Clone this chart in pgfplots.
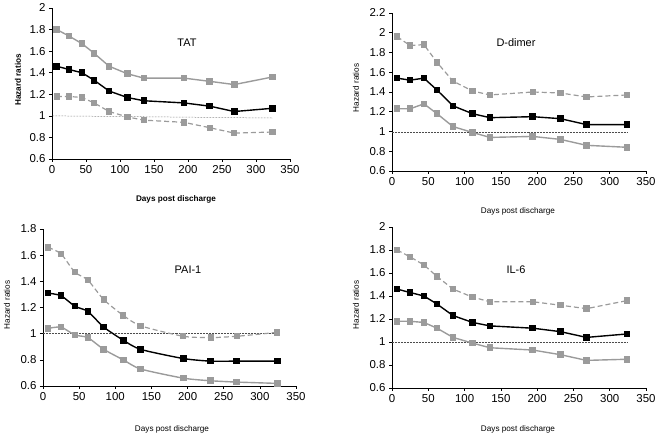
\documentclass[border=0pt]{standalone}
\usepackage{pgfplots}
\pgfplotsset{compat=1.18}
\usepackage{fontspec}
\setmainfont{Liberation Sans}
\definecolor{lgray}{RGB}{155,155,155}
\pgfplotsset{
  hr/.style={
    scale only axis,
    anchor=south west,
    axis lines=left,
    axis line style={-, line width=0.6pt},
    tick align=outside,
    major tick length=3bp,
    tick style={line width=0.6pt, black},
    xmin=0, xmax=350, xtick={0,50,...,350},
    ticklabel style={font=\fontsize{11.5}{12}\selectfont},
    /pgf/number format/assume math mode=true,
    clip=false,
  },
  mid/.style={black, line width=1.4pt, mark=square*, mark size=2.6bp},
  ciS/.style={lgray, line width=1.4pt, mark=square*, mark size=2.6bp},
  ciD/.style={lgray, line width=1.2pt, dash pattern=on 5bp off 3bp, mark=square*, mark size=2.6bp, mark options={solid}},
  ref/.style={black!70, line width=0.5pt, densely dotted},
}
\begin{document}
\begin{tikzpicture}
\path[use as bounding box] (0,0) rectangle (662bp,437bp);
% TAT
\begin{axis}[hr, at={(52bp,278bp)}, width=238bp, height=151bp,
  ymin=0.6, ymax=2, ytick={0.6,0.8,...,2.01}]
\addplot[ref] coordinates {(0,1.0) (325,0.98)};
\addplot[ciS] coordinates {(7,1.80) (25,1.74) (44,1.67) (62,1.58) (84,1.46) (111,1.39) (135,1.35) (194,1.35) (232,1.32) (268,1.29) (324,1.36)};
\addplot[mid] coordinates {(7,1.46) (25,1.43) (44,1.40) (62,1.33) (84,1.23) (111,1.17) (135,1.14) (194,1.12) (232,1.09) (268,1.04) (324,1.07)};
\addplot[ciD] coordinates {(7,1.18) (25,1.18) (44,1.17) (62,1.12) (84,1.04) (111,0.99) (135,0.96) (194,0.94) (232,0.89) (268,0.84) (324,0.85)};
\end{axis}
% D-dimer
\begin{axis}[hr, at={(392bp,266bp)}, width=254bp, height=158bp,
  ymin=0.6, ymax=2.2, ytick={0.6,0.8,...,2.21}]
\addplot[ref] coordinates {(0,0.99) (325,0.99)};
\addplot[ciD] coordinates {(7,1.96) (25,1.87) (44,1.88) (62,1.70) (84,1.51) (111,1.41) (135,1.37) (194,1.40) (232,1.39) (268,1.35) (324,1.37)};
\addplot[mid] coordinates {(7,1.54) (25,1.52) (44,1.54) (62,1.42) (84,1.26) (111,1.18) (135,1.14) (194,1.15) (232,1.13) (268,1.07) (324,1.07)};
\addplot[ciS] coordinates {(7,1.23) (25,1.23) (44,1.28) (62,1.18) (84,1.05) (111,0.99) (135,0.94) (194,0.95) (232,0.92) (268,0.86) (324,0.84)};
\end{axis}
% PAI-1
\begin{axis}[hr, at={(43bp,51bp)}, width=253bp, height=157bp,
  ymin=0.6, ymax=1.8, ytick={0.6,0.8,...,1.81}]
\addplot[ref] coordinates {(0,1.0) (325,1.0)};
\addplot[ciD, smooth, tension=0.4] coordinates {(7,1.66) (25,1.61) (44,1.47) (62,1.41) (84,1.26) (111,1.14) (135,1.06) (194,0.98) (232,0.97) (268,0.98) (324,1.01)};
\addplot[mid, smooth, tension=0.4] coordinates {(7,1.31) (25,1.29) (44,1.21) (62,1.17) (84,1.05) (111,0.95) (135,0.88) (194,0.81) (232,0.79) (268,0.79) (324,0.79)};
\addplot[ciS, smooth, tension=0.4] coordinates {(7,1.04) (25,1.05) (44,0.99) (62,0.97) (84,0.88) (111,0.80) (135,0.73) (194,0.66) (232,0.64) (268,0.63) (324,0.62)};
\end{axis}
% IL-6
\begin{axis}[hr, at={(392bp,49bp)}, width=254bp, height=161bp,
  ymin=0.6, ymax=2, ytick={0.6,0.8,...,2.01}]
\addplot[ref] coordinates {(0,1.0) (325,1.0)};
\addplot[ciD] coordinates {(7,1.80) (25,1.74) (44,1.67) (62,1.57) (84,1.46) (111,1.39) (135,1.35) (194,1.35) (232,1.32) (268,1.29) (324,1.36)};
\addplot[mid] coordinates {(7,1.46) (25,1.43) (44,1.40) (62,1.33) (84,1.23) (111,1.17) (135,1.14) (194,1.12) (232,1.09) (268,1.04) (324,1.07)};
\addplot[ciS] coordinates {(7,1.18) (25,1.18) (44,1.17) (62,1.12) (84,1.04) (111,0.99) (135,0.95) (194,0.93) (232,0.89) (268,0.84) (324,0.85)};
\end{axis}
% titles and labels
\tikzset{lab/.style={font=\fontsize{8.2}{9}\selectfont}, ttl/.style={font=\fontsize{11}{12}\selectfont}}
\node[ttl] at (187bp,394bp) {TAT};
\node[ttl] at (516bp,394bp) {D-dimer};
\node[ttl] at (188bp,167bp) {PAI-1};
\node[ttl] at (516bp,167bp) {IL-6};
\node[lab, font=\fontsize{8.2}{9}\bfseries] at (176bp,238bp) {Days post discharge};
\node[lab] at (518bp,226bp) {Days post discharge};
\node[lab] at (172bp,8bp) {Days post discharge};
\node[lab] at (518bp,8bp) {Days post discharge};
\node[lab, rotate=90, font=\fontsize{8.2}{9}\bfseries] at (18bp,357bp) {Hazard ratios};
\node[lab, rotate=90] at (356bp,349bp) {Hazard ratios};
\node[lab, rotate=90] at (7bp,132bp) {Hazard ratios};
\node[lab, rotate=90] at (356bp,132bp) {Hazard ratios};
\end{tikzpicture}
\end{document}
